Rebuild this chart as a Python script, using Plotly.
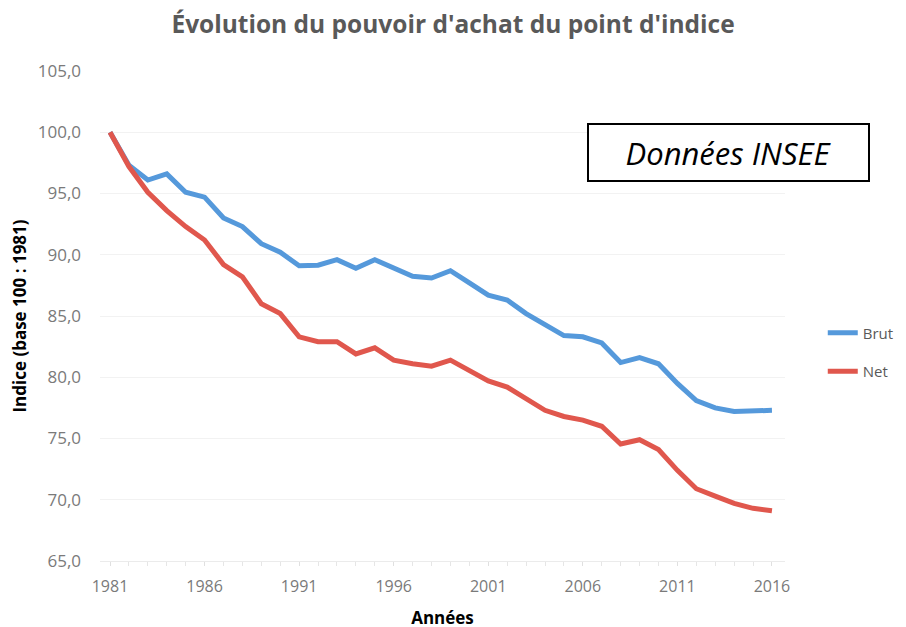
import plotly.graph_objects as go

years = list(range(1981, 2017))
brut = [100.0, 97.3, 96.1, 96.6, 95.1, 94.7, 93.0, 92.3, 90.9, 90.2,
        89.1, 89.15, 89.6, 88.9, 89.6, 88.9, 88.25, 88.1, 88.7, 87.7,
        86.7, 86.3, 85.2, 84.3, 83.4, 83.3, 82.8, 81.2, 81.6, 81.1,
        79.5, 78.1, 77.5, 77.2, 77.2, 77.3]
net = [100.0, 97.2, 95.1, 93.6, 92.3, 91.2, 89.2, 88.2, 86.0, 85.2,
       83.3, 82.9, 82.9, 81.9, 82.4, 81.4, 81.1, 80.9, 81.4, 80.6,
       79.7, 79.2, 78.3, 77.3, 76.8, 76.5, 76.0, 74.55, 74.9, 74.1,
       72.4, 70.9, 70.3, 69.7, 69.3, 69.1]
y_ticks = [65, 70, 75, 80, 85, 90, 95, 100, 105]
x_ticks = [1981, 1986, 1991, 1996, 2001, 2006, 2011, 2016]

fig = go.Figure()
fig.add_trace(go.Scatter(x=years, y=brut, mode="lines", name="Brut",
                         legendgroup="a",
                         line=dict(color="#5599DB", width=5)))
fig.add_trace(go.Scatter(x=years, y=net, mode="lines", name="Net",
                         legendgroup="b",
                         line=dict(color="#E0574D", width=5)))

fig.update_layout(
    width=906, height=627,
    paper_bgcolor="white", plot_bgcolor="white",
    margin=dict(l=92, r=129, t=63, b=74, autoexpand=False),
    separators=", ",
    font=dict(family="Open Sans", color="#595959", size=13),
    title=dict(text="<b>Évolution du pouvoir d'achat du point d'indice</b>",
               x=0.4912, xref="container", xanchor="center",
               y=0.974, yref="container", yanchor="middle",
               font=dict(size=24.5, color="#595959", family="Open Sans")),
    xaxis=dict(range=[1980.47, 2016.69], tickvals=x_ticks,
               showgrid=False, zeroline=False,
               showline=True, linecolor="#EBEBEB", linewidth=1,
               ticks="outside", ticklen=4, tickcolor="#E0E0E0",
               minor=dict(dtick=1, tick0=1981, ticks="outside", ticklen=4, tickcolor="#E6E6E6"),
               ticklabelstandoff=7,
               tickfont=dict(size=16, color="#7a7a7a"),
               title=dict(text="<b>Années</b>", standoff=15,
                          font=dict(size=17, color="black"))),
    yaxis=dict(range=[65, 105], tickvals=y_ticks, tickformat=".1f",
               showgrid=True, gridcolor="#F2F2F2", gridwidth=1,
               zeroline=False, showline=False,
               ticklabelstandoff=18,
               tickfont=dict(size=17, color="#7a7a7a"),
               title=dict(text="<b>Indice (base 100 : 1981)</b>", standoff=6,
                          font=dict(size=17, color="black"))),
    legend=dict(x=0.8993, xref="container", y=0.4514, yref="container",
                xanchor="left", yanchor="middle",
                tracegroupgap=16, font=dict(size=15, color="#595959"),
                bgcolor="rgba(0,0,0,0)"),
    annotations=[dict(text="<i>Données INSEE</i>", xref="paper", yref="paper",
                      x=0.9175, y=0.8337, xanchor="center", yanchor="middle",
                      showarrow=False, font=dict(size=31, color="black", family="Open Sans"),
                      bordercolor="black", borderwidth=2, borderpad=0,
                      width=279, height=55, bgcolor="white")],
)

fig.write_html("out.html")
